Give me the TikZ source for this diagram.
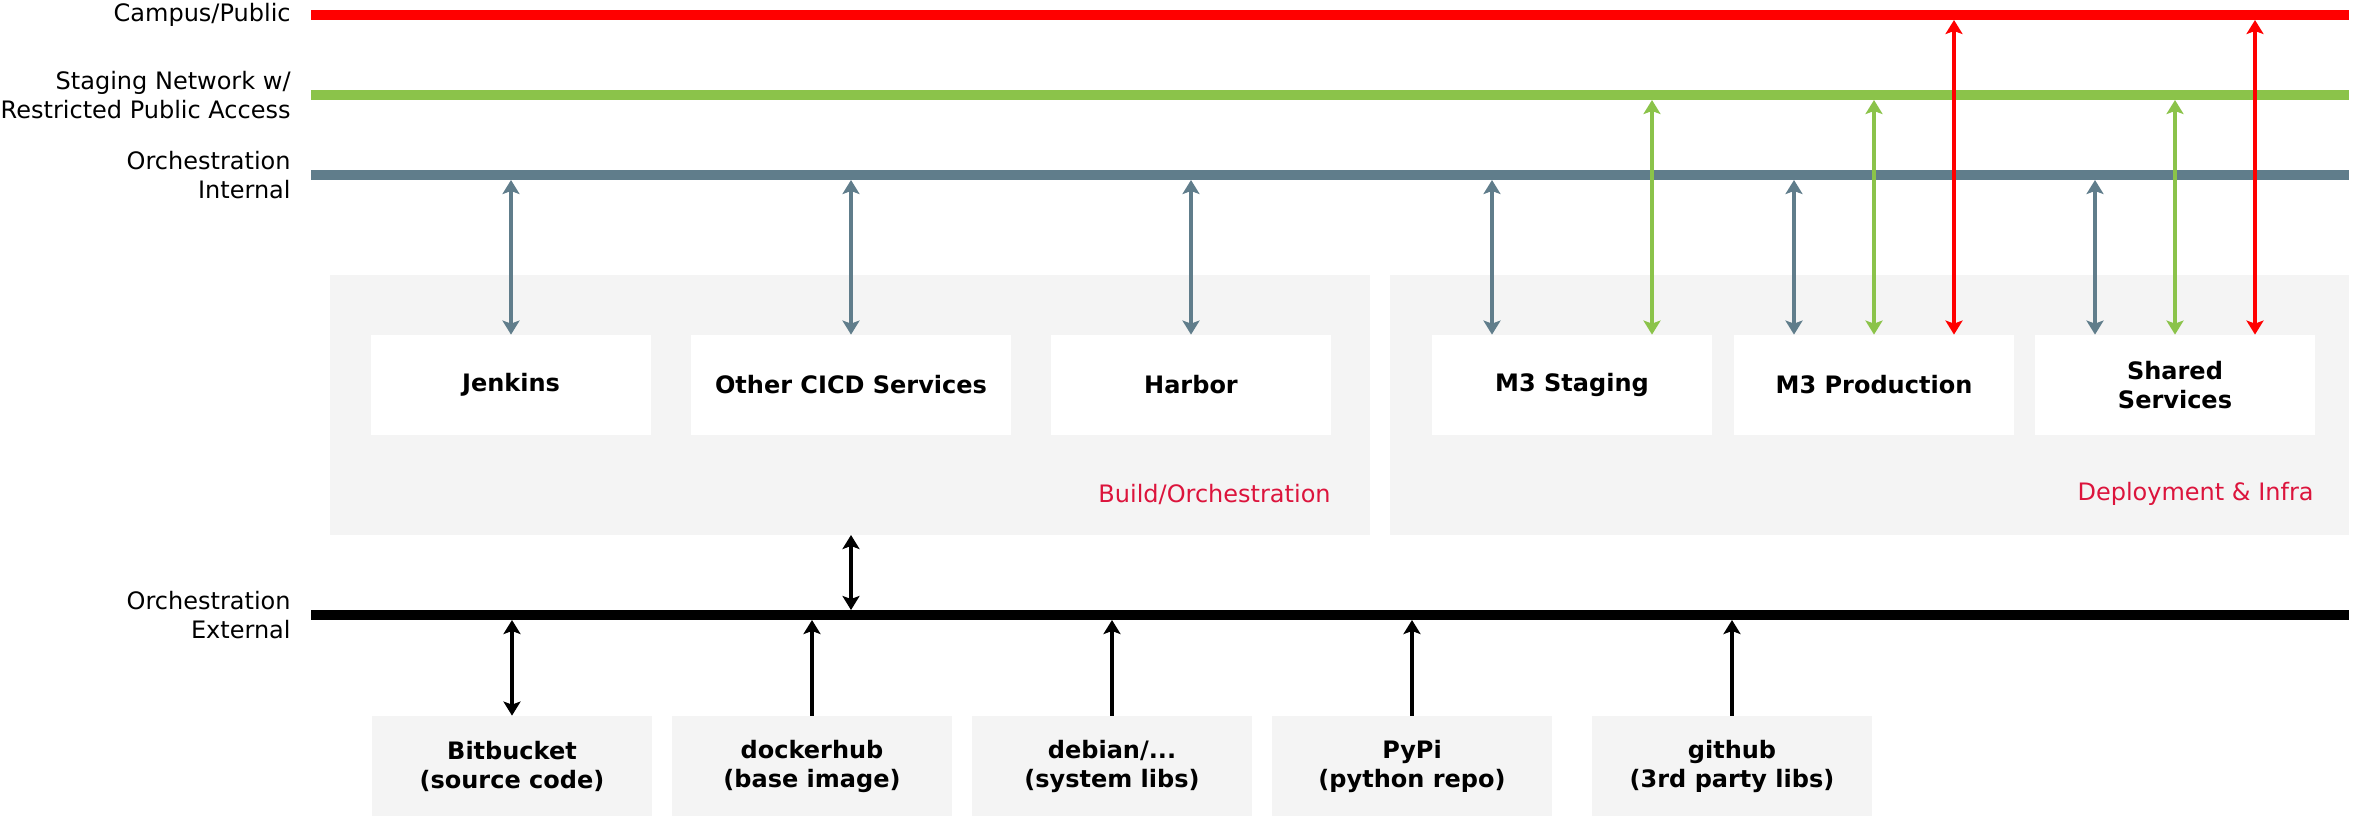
\documentclass[tikz,border=0pt]{standalone}
\usepackage{fontspec}
\setmainfont{DejaVu Sans}
\usetikzlibrary{arrows.meta}
\definecolor{netred}{HTML}{FF0000}
\definecolor{netgreen}{HTML}{8BC34A}
\definecolor{netgray}{HTML}{607D8B}
\definecolor{boxgray}{HTML}{F4F4F4}
\definecolor{tagred}{HTML}{DC143C}
\begin{document}
\begin{tikzpicture}[x=1pt,y=-1pt,
    font=\fontsize{12}{14.5}\selectfont,
    >={Stealth[length=7pt,width=8.5pt,inset=1.5pt]},
    net/.style={line width=5pt},
    link/.style={line width=2pt},
    lbl/.style={anchor=east,align=right,inner sep=0pt},
    tag/.style={anchor=east,inner sep=0pt,text=tagred},
    grp/.style={fill=boxgray,inner sep=0pt,outer sep=0pt,minimum height=130pt},
    svc/.style={fill=white,minimum width=140pt,minimum height=50pt,align=center,font=\fontsize{12}{14.5}\selectfont\bfseries},
    src/.style={svc,fill=boxgray}]
    \useasboundingbox (0,0) rectangle (1178.5,408);
    % networks
    \node[lbl] (lcam) at (145.5,7.5) {Campus/Public};
    \node[lbl] (lstg) at (145.5,47.5) {Staging Network w/\\Restricted Public Access};
    \node[lbl] (lint) at (145.5,87.5) {Orchestration\\Internal};
    \node[lbl] (lext) at (145.5,307.5) {Orchestration\\External};
    \draw[net,netred] (155.5,7.5) -- (1174.5,7.5);
    \draw[net,netgreen] (155.5,47.5) -- (1174.5,47.5);
    \draw[net,netgray] (155.5,87.5) -- (1174.5,87.5);
    \draw[net,black] (155.5,307.5) -- (1174.5,307.5);
    \coordinate (cam) at (0,10);
    \coordinate (stg) at (0,50);
    \coordinate (orI) at (0,90);
    \coordinate (orEt) at (0,305);
    \coordinate (orEb) at (0,310);
    % groups
    \node[grp,minimum width=520pt] (bld) at (425,202.5) {};
    \node[grp,minimum width=479.5pt] (dep) at (934.75,202.5) {};
    \node[tag] (tbld) at (665.5,247) {Build/Orchestration};
    \node[tag] (tdep) at (1157,247) {Deployment \& Infra};
    \node[svc] (J) at (255.5,192.5) {Jenkins};
    \node[svc,minimum width=160pt] (CI) at (425.5,192.5) {Other CICD Services};
    \node[svc] (H) at (595.5,192.5) {Harbor};
    \node[svc] (S) at (786,192.5) {M3 Staging};
    \node[svc] (P) at (937,192.5) {M3 Production};
    \node[svc] (SS) at (1087.5,192.5) {Shared\\Services};
    \foreach \b in {S,P,SS} {
      \coordinate (\b g) at ([xshift=-40pt]\b.north);
      \coordinate (\b r) at ([xshift=40pt]\b.north);
    }
    \draw[link,netgray,<->] (J.north) -- (J.north |- orI);
    \draw[link,netgray,<->] (CI.north) -- (CI.north |- orI);
    \draw[link,netgray,<->] (H.north) -- (H.north |- orI);
    \draw[link,netgray,<->] (Sg) -- (Sg |- orI);
    \draw[link,netgray,<->] (Pg) -- (Pg |- orI);
    \draw[link,netgray,<->] (SSg) -- (SSg |- orI);
    \draw[link,netgreen,<->] (Sr) -- (Sr |- stg);
    \draw[link,netgreen,<->] (P.north) -- (P.north |- stg);
    \draw[link,netgreen,<->] (SS.north) -- (SS.north |- stg);
    \draw[link,netred,<->] (Pr) -- (Pr |- cam);
    \draw[link,netred,<->] (SSr) -- (SSr |- cam);
    % sources
    \node[src] (BB) at (256,383) {Bitbucket\\(source code)};
    \node[src] (DH) at (406,383) {dockerhub\\(base image)};
    \node[src] (DB) at (556,383) {debian/...\\(system libs)};
    \node[src] (PY) at (706,383) {PyPi\\(python repo)};
    \node[src] (GH) at (866,383) {github\\(3rd party libs)};
    \draw[link,<->] (CI |- bld.south) -- (CI |- orEt);
    \draw[link,<->] (BB.north) -- (BB.north |- orEb);
    \draw[link,->] (DH.north) -- (DH.north |- orEb);
    \draw[link,->] (DB.north) -- (DB.north |- orEb);
    \draw[link,->] (PY.north) -- (PY.north |- orEb);
    \draw[link,->] (GH.north) -- (GH.north |- orEb);
\end{tikzpicture}
\end{document}
